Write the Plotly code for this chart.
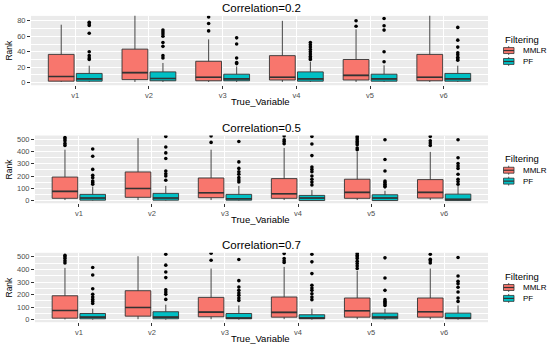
import numpy as np
import plotly.graph_objects as go

W, H = 550, 347

categories = ["v1", "v2", "v3", "v4", "v5", "v6"]
groups = ["MMLR", "PF"]
group_colors = ["#F8766D", "#00BFC4"]
panel_titles = ["Correlation=0.2", "Correlation=0.5", "Correlation=0.7"]
legend_title = "Filtering"
x_title = "True_Variable"
y_title = "Rank"

# ---- Correlation = 0.2 ----
r02_mmlr_lo = [1, 1, 1, 1, 1, 1]
r02_mmlr_q1 = [2, 4, 2.5, 3.5, 3.5, 2.5]
r02_mmlr_med = [8, 13, 7, 7, 9.5, 7]
r02_mmlr_q3 = [36.6, 43.4, 27.7, 35, 30, 36.6]
r02_mmlr_hi = [75, 100, 56, 80, 69, 100]
r02_mmlr_out = [[], [], [85, 76.6, 67], [], [80, 73], []]

r02_pf_lo = [1, 1, 1, 1, 1, 1]
r02_pf_q1 = [2, 2.5, 2.5, 2, 2, 2]
r02_pf_med = [5, 5.5, 5, 5, 5, 5]
r02_pf_q3 = [12, 14, 11, 14, 11, 12]
r02_pf_hi = [22, 25.5, 21, 27, 22.5, 22]
r02_pf_out = [[78, 76, 74, 64, 40, 35, 32, 30],
              [68, 65.5, 63, 60, 52, 47, 35, 32],
              [58, 50, 32, 26, 24.7],
              [52, 49, 46, 43, 40, 37, 34, 32, 30],
              [83, 73.6, 68, 40, 27],
              [71.5, 55, 46, 38.7, 36, 33, 31, 29]]

# ---- Correlation = 0.5 ----
r05_mmlr_lo = [5, 5, 5, 5, 5, 5]
r05_mmlr_q1 = [19, 27, 24, 19, 19, 21]
r05_mmlr_med = [75, 99, 64, 56, 67, 67]
r05_mmlr_q3 = [192, 233, 184, 179, 174, 171]
r05_mmlr_hi = [414, 508, 414, 428, 396, 396]
r05_mmlr_out = [[513, 500, 487, 465, 449],
                [],
                [526, 473],
                [525, 495, 481, 463],
                [521, 508, 495, 481, 468, 455, 428, 414],
                [521, 487, 468, 449]]

r05_pf_lo = [0, 0, 0, 0, 0, 0]
r05_pf_q1 = [4, 4, 4, 1, 1, 1]
r05_pf_med = [21, 21, 16, 21, 21, 11]
r05_pf_q3 = [51, 59, 51, 43, 48, 53]
r05_pf_hi = [115, 120, 120, 86, 80, 120]
r05_pf_out = [[420, 361, 254, 206, 187, 160, 147, 134],
              [521, 436, 388, 342, 241, 219, 200, 166],
              [481, 315, 262, 235, 214, 187, 168, 152],
              [521, 460, 366, 273, 254, 235, 200, 174, 152, 128],
              [495, 334, 241, 160, 147, 134, 120, 112],
              [495, 348, 302, 281, 262, 214, 174, 155, 134]]

# ---- Correlation = 0.7 ----
r07_mmlr_lo = [3, 5, 5, 5, 5, 5]
r07_mmlr_q1 = [13, 29, 24, 21, 21, 21]
r07_mmlr_med = [74, 98, 61, 59, 72, 64]
r07_mmlr_q3 = [191, 231, 178, 181, 173, 173]
r07_mmlr_hi = [412, 505, 407, 420, 388, 407]
r07_mmlr_out = [[513, 500, 487, 468, 452],
                [],
                [528, 473],
                [527, 487, 468, 455],
                [527, 513, 500, 487, 465, 447, 428, 407],
                [521, 481, 468, 452]]

r07_pf_lo = [1, 1, 1, 1, 1, 1]
r07_pf_q1 = [8, 8, 8, 8, 8, 8]
r07_pf_med = [21, 21, 13, 13, 21, 13]
r07_pf_q3 = [50, 64, 50, 40, 53, 53]
r07_pf_hi = [88, 120, 114, 88, 88, 114]
r07_pf_out = [[415, 356, 247, 202, 181, 162, 146, 130],
              [521, 434, 380, 335, 239, 221, 202, 162],
              [479, 311, 261, 234, 213, 194, 173, 154],
              [521, 460, 367, 274, 253, 234, 207, 181, 160],
              [492, 332, 234, 160, 146, 136, 125, 114],
              [495, 348, 306, 287, 258, 221, 173, 146]]

y_ticks_02 = [0, 20, 40, 60, 80]
y_ticks_05 = [0, 100, 200, 300, 400, 500]

panels = [
    dict(title=panel_titles[0], ticks=y_ticks_02, minor=10, yrange=[-3.3, 86.4],
         px_left=31, px_top=15, px_bot=85,
         stats=[(r02_mmlr_lo, r02_mmlr_q1, r02_mmlr_med, r02_mmlr_q3, r02_mmlr_hi, r02_mmlr_out),
                (r02_pf_lo, r02_pf_q1, r02_pf_med, r02_pf_q3, r02_pf_hi, r02_pf_out)]),
    dict(title=panel_titles[1], ticks=y_ticks_05, minor=50, yrange=[-21, 529],
         px_left=35, px_top=135.7, px_bot=204,
         stats=[(r05_mmlr_lo, r05_mmlr_q1, r05_mmlr_med, r05_mmlr_q3, r05_mmlr_hi, r05_mmlr_out),
                (r05_pf_lo, r05_pf_q1, r05_pf_med, r05_pf_q3, r05_pf_hi, r05_pf_out)]),
    dict(title=panel_titles[2], ticks=y_ticks_05, minor=50, yrange=[-19, 532],
         px_left=35, px_top=254, px_bot=324,
         stats=[(r07_mmlr_lo, r07_mmlr_q1, r07_mmlr_med, r07_mmlr_q3, r07_mmlr_hi, r07_mmlr_out),
                (r07_pf_lo, r07_pf_q1, r07_pf_med, r07_pf_q3, r07_pf_hi, r07_pf_out)]),
]

FONT = "Liberation Sans, Arial, sans-serif"
PX_RIGHT = 488
base = np.arange(1, len(categories) + 1)
dodge = [-0.19, 0.19]
box_w = 0.35


def fx(px):
    return px / W


def fy(px):
    return 1 - px / H


fig = go.Figure()
layout = dict(
    width=W, height=H, autosize=False,
    margin=dict(l=0, r=0, t=0, b=0),
    paper_bgcolor="white", plot_bgcolor="#EBEBEB",
    boxmode="overlay", showlegend=False,
    font=dict(family=FONT, color="#4D4D4D"),
)
annotations = []
shapes = []

for p_i, p in enumerate(panels):
    sfx = "" if p_i == 0 else str(p_i + 1)
    xa, ya = "x" + sfx, "y" + sfx
    for g_i, g in enumerate(groups):
        lo, q1, med, q3, hi, out = p["stats"][g_i]
        pos = base + dodge[g_i]
        fig.add_trace(go.Box(
            x=pos, lowerfence=lo, q1=q1, median=med, q3=q3, upperfence=hi,
            width=box_w, fillcolor=group_colors[g_i],
            line=dict(color="#333333", width=0.9), whiskerwidth=0,
            boxpoints=False, name=g, xaxis=xa, yaxis=ya, hoverinfo="skip",
        ))
        # thicker median line (as ggplot draws it)
        mx, my = [], []
        for c_i, m in enumerate(med):
            mx += [pos[c_i] - box_w / 2, pos[c_i] + box_w / 2, None]
            my += [m, m, None]
        fig.add_trace(go.Scatter(
            x=mx, y=my, mode="lines", xaxis=xa, yaxis=ya,
            line=dict(color="#333333", width=1.6), hoverinfo="skip", name=g,
        ))
        ox, oy = [], []
        for c_i, vals in enumerate(out):
            ox += [pos[c_i]] * len(vals)
            oy += list(vals)
        fig.add_trace(go.Scatter(
            x=ox, y=oy, mode="markers", xaxis=xa, yaxis=ya,
            marker=dict(color="black", size=3.6), hoverinfo="skip", name=g,
        ))

    dom_y = [fy(p["px_bot"]), fy(p["px_top"])]
    layout["xaxis" + sfx] = dict(
        domain=[fx(p["px_left"]), fx(PX_RIGHT)], anchor=ya,
        range=[0.4, len(categories) + 0.6],
        tickmode="array", tickvals=list(base), ticktext=categories,
        showgrid=True, gridcolor="white", gridwidth=1, zeroline=False,
        ticks="outside", ticklen=3, tickwidth=0.8, tickcolor="#333333",
        tickfont=dict(size=7.5, color="#4D4D4D"), showline=False,
    )
    layout["yaxis" + sfx] = dict(
        domain=dom_y, anchor=xa, range=p["yrange"],
        tickmode="array", tickvals=p["ticks"],
        showgrid=True, gridcolor="white", gridwidth=1, zeroline=False,
        minor=dict(dtick=p["minor"], tick0=0, showgrid=True, gridcolor="white", gridwidth=0.4),
        ticks="outside", ticklen=3, tickwidth=0.8, tickcolor="#333333",
        tickfont=dict(size=7.5, color="#4D4D4D"), showline=False,
    )

    # panel title
    annotations.append(dict(text=p["title"], x=fx(261), y=fy(p["px_top"] - 7.5),
                            xref="paper", yref="paper", showarrow=False,
                            xanchor="center", yanchor="middle",
                            font=dict(size=11.5, color="black", family=FONT)))
    # x axis title
    annotations.append(dict(text=x_title, x=fx(260), y=fy(p["px_bot"] + 16.5),
                            xref="paper", yref="paper", showarrow=False,
                            xanchor="center", yanchor="middle",
                            font=dict(size=9.5, color="black", family=FONT)))
    # y axis title
    annotations.append(dict(text=y_title, x=fx(9), y=fy((p["px_top"] + p["px_bot"]) / 2),
                            xref="paper", yref="paper", showarrow=False, textangle=-90,
                            xanchor="center", yanchor="middle",
                            font=dict(size=8.5, color="black", family=FONT)))
    # legend
    annotations.append(dict(text=legend_title, x=fx(502.5), y=fy(p["px_top"] + 23.5),
                            xref="paper", yref="paper", showarrow=False,
                            xanchor="left", yanchor="middle",
                            font=dict(size=9.5, color="black", family=FONT)))
    for g_i, g in enumerate(groups):
        cy = p["px_top"] + 35 + 11 * g_i
        shapes.append(dict(type="line", xref="paper", yref="paper",
                           x0=fx(508.7), x1=fx(508.7), y0=fy(cy - 4.5), y1=fy(cy + 4.5),
                           line=dict(color="#333333", width=0.8)))
        shapes.append(dict(type="rect", xref="paper", yref="paper",
                           x0=fx(503.5), x1=fx(514), y0=fy(cy - 3), y1=fy(cy + 3),
                           fillcolor=group_colors[g_i], line=dict(color="#333333", width=0.8)))
        shapes.append(dict(type="line", xref="paper", yref="paper",
                           x0=fx(503.5), x1=fx(514), y0=fy(cy), y1=fy(cy),
                           line=dict(color="#333333", width=1.2)))
        annotations.append(dict(text=g, x=fx(520.5), y=fy(cy),
                                xref="paper", yref="paper", showarrow=False,
                                xanchor="left", yanchor="middle",
                                font=dict(size=8, color="black", family=FONT)))

layout["annotations"] = annotations
layout["shapes"] = shapes
fig.update_layout(**layout)
fig.write_html("out.html", config={"displayModeBar": False},
               post_script="document.body.style.margin='0px';document.body.style.padding='0px';")
